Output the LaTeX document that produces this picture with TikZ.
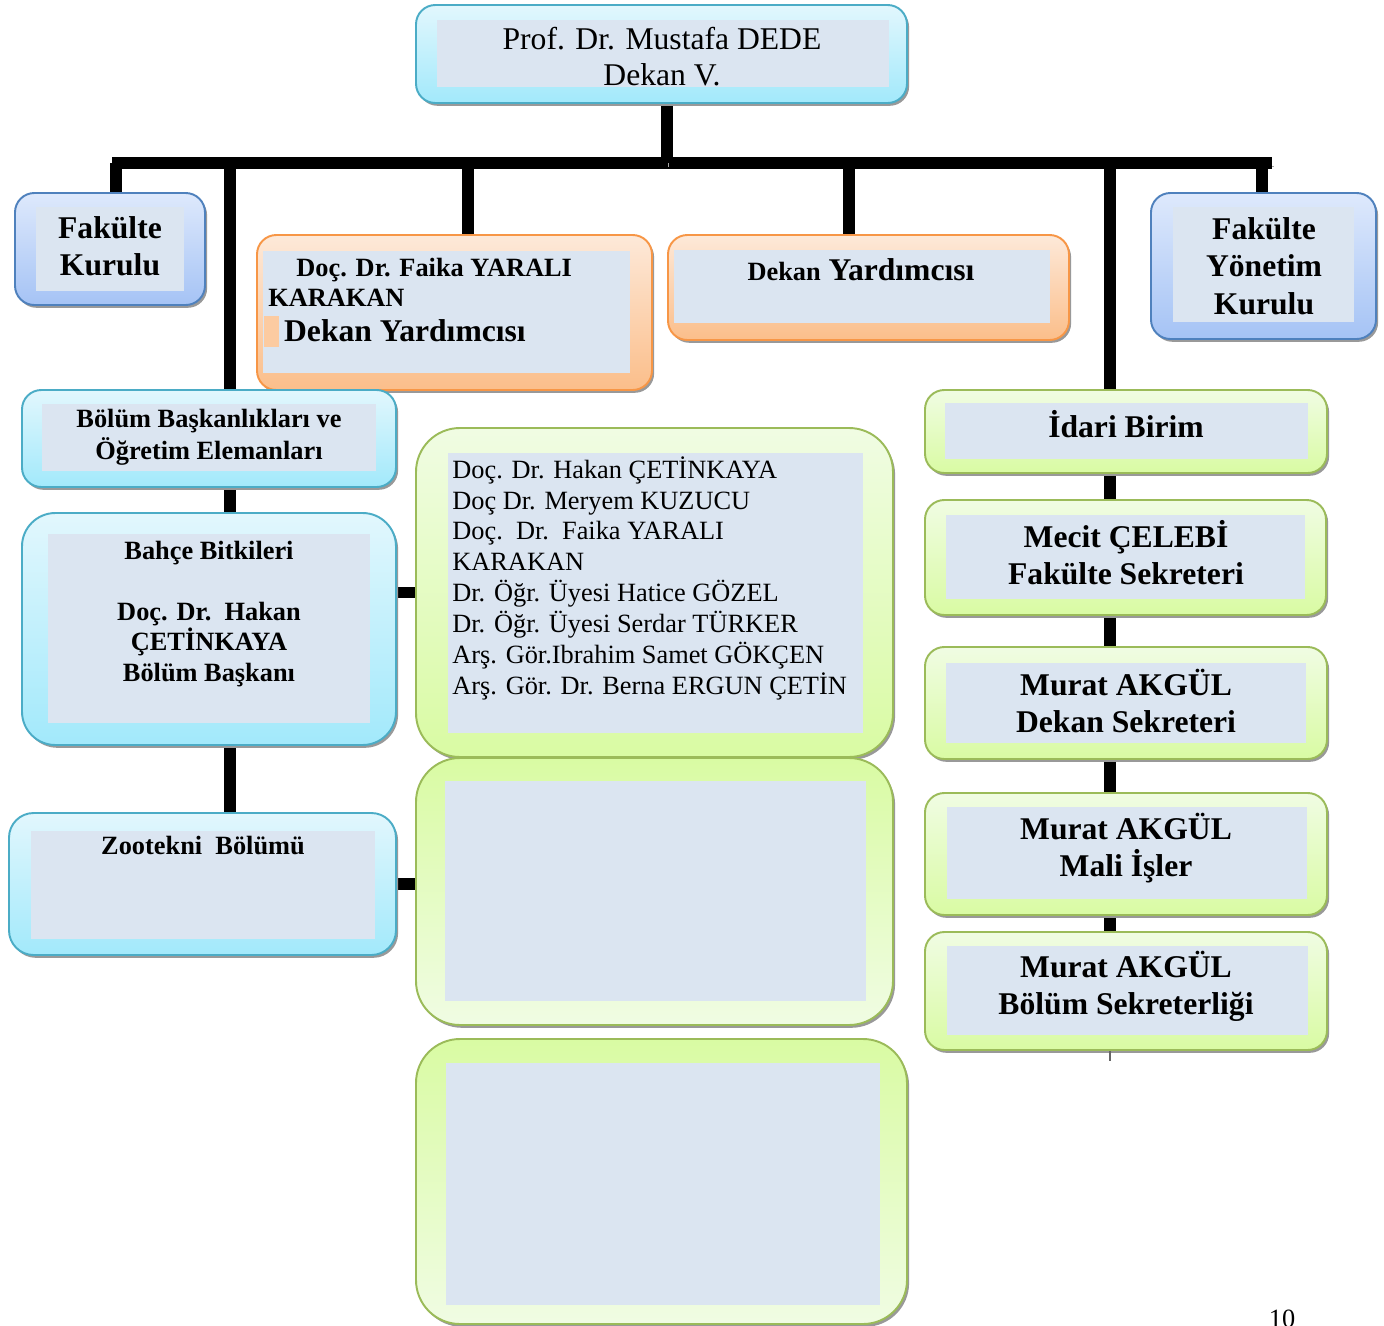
\documentclass[tikz,border=0pt]{standalone}
\usepackage{fontspec}
\setmainfont{Liberation Serif}
\usetikzlibrary{fit,shadows,backgrounds}

\definecolor{icmavi}{HTML}{DBE5F1}
\definecolor{turkTop}{HTML}{E2F7FD}
\definecolor{turkBot}{HTML}{A2E9FB}
\definecolor{turkCizgi}{HTML}{4BACC6}
\definecolor{maviTop}{HTML}{DEE9FC}
\definecolor{maviBot}{HTML}{A5C3F5}
\definecolor{maviCizgi}{HTML}{4F81BD}
\definecolor{turTop}{HTML}{FDE9D9}
\definecolor{turBot}{HTML}{FBBE8A}
\definecolor{turCizgi}{HTML}{F79646}
\definecolor{yesAcik}{HTML}{F0FCE3}
\definecolor{yesKoyu}{HTML}{D9FBA3}
\definecolor{yesCizgi}{HTML}{9BBB59}

\tikzset{
  kutu/.style={rectangle, inner sep=0pt, line width=1.1pt, rounded corners=11pt,
    drop shadow={shadow xshift=1.2pt, shadow yshift=-1.6pt, fill=black!40, opacity=1}},
  turkkutu/.style={kutu, draw=turkCizgi, top color=turkTop, bottom color=turkBot},
  mavikutu/.style={kutu, draw=maviCizgi, top color=maviTop, bottom color=maviBot},
  turkutu/.style={kutu, draw=turCizgi, top color=turTop, bottom color=turBot},
  yeskutu/.style={kutu, draw=yesCizgi, top color=yesAcik, bottom color=yesKoyu},
  yesters/.style={kutu, draw=yesCizgi, top color=yesKoyu, bottom color=yesAcik},
  ic/.style={fill=icmavi},
  baglanti/.style={line width=6.8pt,
    preaction={draw=black!35, transform canvas={xshift=1pt, yshift=-2pt}}},
  buyuk/.style={font=\bfseries\fontsize{18}{21}\selectfont, align=center, inner sep=0pt},
  orta/.style={font=\bfseries\fontsize{15}{18}\selectfont, align=center, inner sep=0pt},
  duz/.style={font=\fontsize{15}{17.6}\selectfont, align=left, inner sep=0pt}
}

\begin{document}
\begin{tikzpicture}[x=0.02cm, y=-0.02cm]
\useasboundingbox (0,0) rectangle (1384,1326);

% Dekan
\node[turkkutu, fit={(416,5) (907,103)}] (dekan) {};
\fill[ic] (437,20) rectangle (889,87);
\node[font=\fontsize{18}{20.4}\selectfont, align=center, inner sep=0pt] (dekanyazi) at (662,57)
  {Prof. Dr. Mustafa DEDE\\Dekan V.};

% ust sira
\node[mavikutu, fit={(15,193) (205,305)}] (fkurul) {};
\fill[ic] (36,207) rectangle (184,291);
\node[buyuk] (fkurulyazi) at (110,246) {Fakülte\\Kurulu};

\node[turkutu, fit={(257,235) (652,390)}] (yard1) {};
\fill[ic] (263,251) rectangle (630,373);
\fill[turBot!80] (264,316) rectangle (279,347);
\node[duz, font=\bfseries\fontsize{15}{17}\selectfont, anchor=north west] (yard1yazi) at (268,258)
  {\hspace*{16pt}Doç. Dr. Faika YARALI\\KARAKAN\\[3pt]\hspace*{9pt}{\fontsize{18}{21}\selectfont Dekan Yardımcısı}};

\node[turkutu, fit={(668,235) (1069,340)}] (yard2) {};
\fill[ic] (674,250) rectangle (1050,323);
\node[buyuk] (yard2yazi) at (861,270) {{\fontsize{15}{18}\selectfont Dekan} Yardımcısı};

\node[mavikutu, fit={(1151,193) (1376,339)}] (fyk) {};
\fill[ic] (1173,207) rectangle (1354,322);
\node[buyuk, font=\bfseries\fontsize{18}{21.5}\selectfont] (fykyazi) at (1264,266) {Fakülte\\Yönetim\\Kurulu};

% sol sutun
\node[turkkutu, fit={(22,390) (396,487)}] (bolum) {};
\fill[ic] (42,404) rectangle (376,471);
\node[orta] (bolumyazi) at (209,437) {Bölüm Başkanlıkları ve\\Öğretim Elemanları};

\node[turkkutu, rounded corners=19pt, fit={(22,513) (396,745)}] (bahce) {};
\fill[ic] (48,534) rectangle (370,723);
\node[orta, font=\bfseries\fontsize{15}{17.3}\selectfont, anchor=north] (bahceyazi) at (209,541)
  {Bahçe Bitkileri\\[17.3pt]Doç. Dr.\ \ Hakan\\ÇETİNKAYA\\Bölüm Başkanı};

\node[turkkutu, rounded corners=14pt, fit={(9,813) (396,955)}] (zoot) {};
\fill[ic] (31,831) rectangle (375,939);
\node[orta] (zootyazi) at (203,846) {Zootekni\ \ Bölümü};

% orta sutun
\node[yeskutu, rounded corners=25pt, fit={(416,428) (893,757)}] (liste) {};
\fill[ic] (448,453) rectangle (863,733);
\node[duz, anchor=north west] (listeyazi) at (452,456)
  {Doç. Dr. Hakan ÇETİNKAYA\\Doç Dr. Meryem KUZUCU\\Doç.\ \ Dr.\ \ Faika YARALI\\KARAKAN\\
   Dr. Öğr. Üyesi Hatice GÖZEL\\Dr. Öğr. Üyesi Serdar TÜRKER\\Arş. Gör.Ibrahim Samet GÖKÇEN\\
   Arş. Gör. Dr. Berna ERGUN ÇETİN};

\node[yesters, rounded corners=25pt, fit={(416,758) (893,1025)}] (bos1) {};
\fill[ic] (445,781) rectangle (866,1001);

\node[yesters, rounded corners=25pt, fit={(416,1039) (907,1324)}] (bos2) {};
\fill[ic] (446,1063) rectangle (880,1305);

% idari birim
\node[yeskutu, fit={(925,390) (1327,473)}] (idari) {};
\fill[ic] (945,403) rectangle (1308,459);
\node[buyuk] (idariyazi) at (1126,424) {İdari Birim};

\node[yeskutu, fit={(925,500) (1326,615)}] (fsek) {};
\fill[ic] (946,515) rectangle (1305,599);
\node[buyuk] (fsekyazi) at (1126,553) {Mecit ÇELEBİ\\Fakülte Sekreteri};

\node[yeskutu, fit={(925,647) (1327,759)}] (dsek) {};
\fill[ic] (946,663) rectangle (1306,743);
\node[buyuk] (dsekyazi) at (1126,701) {Murat AKGÜL\\Dekan Sekreteri};

\node[yeskutu, fit={(925,793) (1327,915)}] (mali) {};
\fill[ic] (947,807) rectangle (1307,899);
\node[buyuk] (maliyazi) at (1126,848) {Murat AKGÜL\\Mali İşler};

\node[yeskutu, fit={(925,932) (1327,1050)}] (bsek) {};
\fill[ic] (947,946) rectangle (1308,1035);
\node[buyuk] (bsekyazi) at (1126,986) {Murat AKGÜL\\Bölüm Sekreterliği};

% sayfa numarasi
\node[font=\fontsize{15}{18}\selectfont, anchor=base, inner sep=0pt] (sayfa) at (1282,1327) {10};

% baglantilar
\begin{pgfonlayer}{background}
\coordinate (solUc) at (112,163);
\coordinate (sagUc) at (1272,163);
\coordinate (solOmurga) at (230,163);
\coordinate (sagOmurga) at (1110,163);
\draw[baglanti] (solUc) -- (sagUc);
\draw[baglanti] (667,163 |- dekan.south) -- (667,163);
\foreach \x/\hedef in {116/fkurul, 230/bolum, 468/yard1, 849/yard2, 1110/idari, 1262/fyk}
  \draw[baglanti] (\x,163) -- (\x,163 |- \hedef.north);
\draw[baglanti] (solOmurga |- bolum.south) -- (solOmurga |- bahce.north);
\draw[baglanti] (solOmurga |- bahce.south) -- (solOmurga |- zoot.north);
\draw[baglanti] (liste.west -| bahce.east) -- (liste.west);
\draw[baglanti] (zoot.east) -- (zoot.east -| bos1.west);
\draw[baglanti] (sagOmurga |- idari.south) -- (sagOmurga |- fsek.north);
\draw[baglanti] (sagOmurga |- fsek.south) -- (sagOmurga |- dsek.north);
\draw[baglanti] (sagOmurga |- dsek.south) -- (sagOmurga |- mali.north);
\draw[baglanti] (sagOmurga |- mali.south) -- (sagOmurga |- bsek.north);
\end{pgfonlayer}
\draw[line width=0.6pt, black!60] (sagOmurga |- bsek.south) -- ++(0,10);

\end{tikzpicture}
\end{document}
